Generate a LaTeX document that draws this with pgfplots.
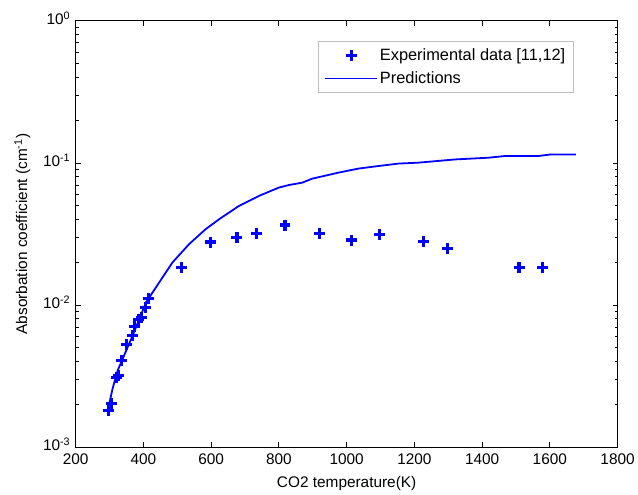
\documentclass[border=0pt]{standalone}
\usepackage{pgfplots}
\pgfplotsset{compat=1.18}
\usepackage{fontspec}
\setmainfont{Liberation Sans}
\definecolor{mblue}{RGB}{0,0,255}
\begin{document}
\begin{tikzpicture}
\path[draw=none] (-76bp,-44bp) rectangle (562bp,449bp);
\begin{axis}[
  at={(0,0)}, anchor=south west,
  scale only axis, width=544bp, height=428bp,
  xmin=200, xmax=1800, ymode=log, ymin=1e-3, ymax=1,
  xtick={200,400,...,1800},
  ytick={1e-3,1e-2,1e-1,1},
  yticklabels={10\textsuperscript{-3},10\textsuperscript{-2},10\textsuperscript{-1},10\textsuperscript{0}},
  /pgf/number format/assume math mode=true,
  /pgf/number format/1000 sep={},
  tick label style={font=\fontsize{15.5}{17}\selectfont},
  xticklabel style={yshift=-3bp},
  yticklabel style={xshift=-2bp, yshift=3bp},
  label style={font=\fontsize{15.5}{17}\selectfont},
  xlabel={CO2 temperature(K)},
  ylabel={Absorbation coefficient (cm\textsuperscript{-1})},
  xlabel style={yshift=-5bp},
  ylabel style={yshift=6bp},
  tick align=inside, major tick length=5bp, minor tick length=3bp,
  axis line style={line width=1bp},
  every tick/.style={black, line width=0.9bp},
  legend cell align=left,
  legend style={at={(0.9186,0.952)}, anchor=north east, draw=gray!50,
    font=\fontsize{16.5}{18}\selectfont, inner xsep=6bp, inner ysep=5bp, row sep=6bp},
  legend image code/.code={\draw[mark repeat=2,mark phase=2,#1] plot coordinates {(0bp,0bp) (26bp,0bp) (52bp,0bp)};},
]
\addplot[only marks, mark=+, color=mblue, mark size=5.5bp, mark options={line width=3.2bp}] coordinates {
(297,0.00182) (306,0.00203) (320,0.00310) (326,0.00320) (335,0.00407)
(350,0.00527) (368,0.0061) (374,0.00705) (385,0.00789) (394,0.00815)
(406,0.00958) (415,0.01107) (512,0.0183) (597,0.0278) (676,0.0301)
(735,0.0321) (818,0.0366) (920,0.0321) (1015,0.0287) (1097,0.0316)
(1228,0.0279) (1298,0.0252) (1509,0.0183) (1579,0.0183)
};
\addlegendentry{Experimental data [11,12]}
\addplot[color=mblue, line width=1.8bp] coordinates {
(294,0.00179) (309,0.00259) (324,0.00347) (344,0.00449) (368,0.0061)
(388,0.0080) (408,0.0105) (447,0.0145) (486,0.0200) (535,0.0269)
(584,0.0343) (624,0.0403) (682,0.0499) (741,0.0587) (800,0.0672)
(829,0.0700) (869,0.0728) (898,0.0776) (976,0.0856) (1035,0.0914)
(1094,0.0953) (1153,0.0991) (1212,0.1006) (1320,0.106) (1418,0.109)
(1467,0.112) (1565,0.112) (1604,0.115) (1677,0.115)
};
\addlegendentry{Predictions}
\end{axis}
\end{tikzpicture}
\end{document}
